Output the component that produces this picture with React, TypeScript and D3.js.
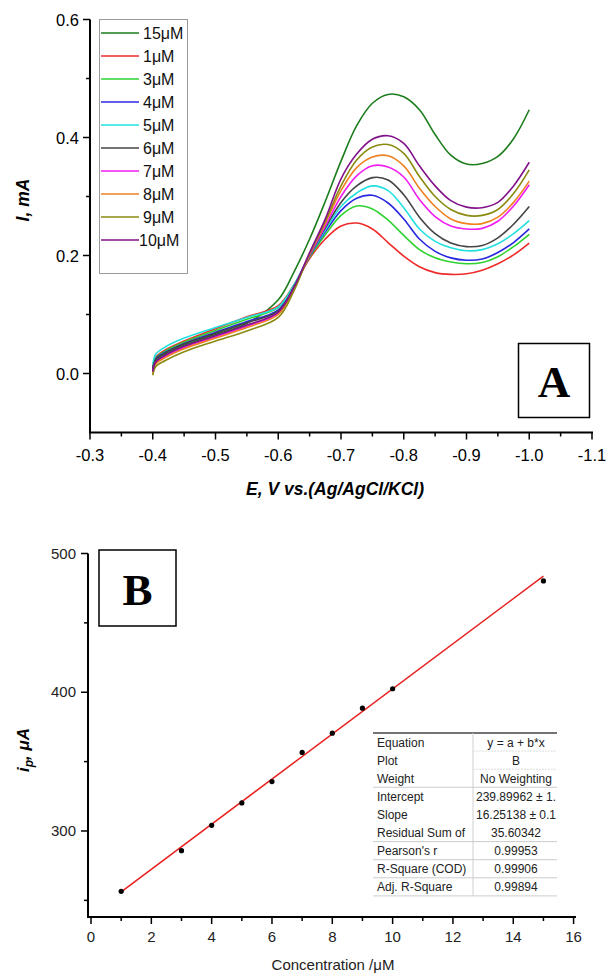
import React, { useRef, useEffect } from 'react';
import * as d3 from 'd3';

// Panel A: DPV curves, current (mA) vs potential (V)
const potentials = [-0.4, -0.405, -0.42, -0.45, -0.5, -0.55, -0.6, -0.625, -0.65, -0.675, -0.7, -0.725, -0.75, -0.775, -0.8, -0.825, -0.85, -0.875, -0.9, -0.925, -0.95, -0.975, -1.0];

const current15 = [0.004, 0.022, 0.033, 0.048, 0.066, 0.085, 0.125, 0.172, 0.228, 0.292, 0.36, 0.42, 0.458, 0.473, 0.469, 0.447, 0.405, 0.37, 0.355, 0.356, 0.368, 0.398, 0.447];
const current1 = [0.01, 0.028, 0.04, 0.055, 0.076, 0.096, 0.115, 0.15, 0.195, 0.228, 0.25, 0.255, 0.245, 0.222, 0.199, 0.181, 0.171, 0.168, 0.169, 0.175, 0.186, 0.201, 0.221];
const current3 = [0.008, 0.026, 0.038, 0.053, 0.073, 0.092, 0.112, 0.15, 0.197, 0.235, 0.268, 0.284, 0.279, 0.26, 0.234, 0.21, 0.196, 0.189, 0.186, 0.188, 0.198, 0.215, 0.236];
const current4 = [0.007, 0.025, 0.036, 0.051, 0.07, 0.088, 0.108, 0.148, 0.199, 0.24, 0.276, 0.297, 0.302, 0.289, 0.262, 0.228, 0.207, 0.196, 0.192, 0.194, 0.205, 0.222, 0.245];
const current5 = [0.015, 0.033, 0.045, 0.06, 0.078, 0.095, 0.113, 0.15, 0.2, 0.243, 0.283, 0.306, 0.318, 0.31, 0.281, 0.245, 0.224, 0.213, 0.208, 0.21, 0.22, 0.237, 0.259];
const current6 = [0.006, 0.024, 0.035, 0.05, 0.068, 0.086, 0.106, 0.147, 0.2, 0.247, 0.29, 0.318, 0.332, 0.328, 0.303, 0.265, 0.237, 0.221, 0.215, 0.217, 0.23, 0.253, 0.283];
const current7 = [0.002, 0.018, 0.029, 0.044, 0.062, 0.08, 0.102, 0.145, 0.2, 0.25, 0.3, 0.335, 0.352, 0.35, 0.333, 0.295, 0.266, 0.25, 0.245, 0.246, 0.258, 0.284, 0.32];
const current8 = [0.0, 0.016, 0.027, 0.042, 0.06, 0.078, 0.1, 0.144, 0.202, 0.255, 0.31, 0.349, 0.367, 0.369, 0.352, 0.314, 0.283, 0.262, 0.254, 0.254, 0.265, 0.29, 0.326];
const current9 = [-0.003, 0.012, 0.022, 0.037, 0.055, 0.072, 0.095, 0.14, 0.203, 0.258, 0.318, 0.362, 0.384, 0.388, 0.373, 0.334, 0.3, 0.278, 0.268, 0.268, 0.278, 0.305, 0.345];
const current10 = [0.003, 0.02, 0.031, 0.046, 0.064, 0.082, 0.104, 0.146, 0.205, 0.262, 0.33, 0.372, 0.397, 0.403, 0.39, 0.352, 0.318, 0.293, 0.282, 0.281, 0.29, 0.318, 0.358];

const seriesLabels = ['15\u03bcM', '1\u03bcM', '3\u03bcM', '4\u03bcM', '5\u03bcM', '6\u03bcM', '7\u03bcM', '8\u03bcM', '9\u03bcM', '10\u03bcM'];
const seriesCurrents = [current15, current1, current3, current4, current5, current6, current7, current8, current9, current10];
const seriesColors = ['#1c7d1c', '#ee2a2a', '#2fd22f', '#2828e0', '#22e0e0', '#444444', '#f01cf0', '#ef8020', '#8a8a10', '#82128a'];

const xTicksA = [-0.3, -0.4, -0.5, -0.6, -0.7, -0.8, -0.9, -1.0, -1.1];
const xTickLabelsA = ['-0.3', '-0.4', '-0.5', '-0.6', '-0.7', '-0.8', '-0.9', '-1.0', '-1.1'];
const yTicksA = [0, 0.2, 0.4, 0.6];
const yTickLabelsA = ['0.0', '0.2', '0.4', '0.6'];
const yMinorA = [0.1, 0.3, 0.5];

// Panel B: calibration
const concentrations = [1, 3, 4, 5, 6, 7, 8, 9, 10, 15];
const peakCurrents = [256.5, 285.8, 304.1, 320.2, 335.6, 356.6, 370.5, 388.5, 402.5, 480.2];
const fitIntercept = 239.89962;
const fitSlope = 16.25138;
const fitRange = [1, 15];

const xTicksB = [0, 2, 4, 6, 8, 10, 12, 14, 16];
const xMinorB = [1, 3, 5, 7, 9, 11, 13, 15];
const yTicksB = [300, 400, 500];
const yMinorB = [250, 350, 450];

const fitNames = ['Equation', 'Plot', 'Weight', 'Intercept', 'Slope', 'Residual Sum of', "Pearson's r", 'R-Square (COD)', 'Adj. R-Square'];
const fitValues = ['y = a + b*x', 'B', 'No Weighting', '239.89962 \u00b1 1.', '16.25138 \u00b1 0.1', '35.60342', '0.99953', '0.99906', '0.99894'];

const SANS = '"Liberation Sans", Arial, sans-serif';
const SERIF = '"Liberation Serif", "Times New Roman", serif';

function App() {
  const svgRef = useRef<SVGSVGElement>(null);

  useEffect(() => {
    const svg = d3.select(svgRef.current);
    svg.selectAll('*').remove();

    // ---------- Panel A ----------
    const xA = d3.scaleLinear().domain([-0.3, -1.1]).range([90, 592]);
    const yA = d3.scaleLinear().domain([-0.1, 0.6]).range([432.5, 19.5]);
    const gA = svg.append('g');

    const line = d3
      .line<number>()
      .x((d, i) => xA(potentials[i]))
      .y(d => yA(d))
      .curve(d3.curveCatmullRom.alpha(0.5));

    seriesCurrents.forEach((vals, k) => {
      gA.append('path')
        .datum(vals)
        .attr('fill', 'none')
        .attr('stroke', seriesColors[k])
        .attr('stroke-width', 1.6)
        .attr('d', line);
    });

    // axes
    gA.append('line').attr('x1', 90).attr('x2', 90).attr('y1', yA(0.6)).attr('y2', yA(-0.1))
      .attr('stroke', '#000').attr('stroke-width', 2);
    gA.append('line').attr('x1', 89).attr('x2', xA(-1.1) + 1).attr('y1', yA(-0.1)).attr('y2', yA(-0.1))
      .attr('stroke', '#000').attr('stroke-width', 2);

    yTicksA.forEach((v, i) => {
      gA.append('line').attr('x1', 83).attr('x2', 90).attr('y1', yA(v)).attr('y2', yA(v))
        .attr('stroke', '#000').attr('stroke-width', 1.5);
      gA.append('text').attr('x', 79).attr('y', yA(v) + 6).attr('text-anchor', 'end')
        .attr('font-family', SANS).attr('font-size', 16.5).text(yTickLabelsA[i]);
    });
    yMinorA.forEach(v => {
      gA.append('line').attr('x1', 86).attr('x2', 90).attr('y1', yA(v)).attr('y2', yA(v))
        .attr('stroke', '#000').attr('stroke-width', 1.5);
    });
    xTicksA.forEach((v, i) => {
      gA.append('line').attr('x1', xA(v)).attr('x2', xA(v)).attr('y1', 432.5).attr('y2', 439.5)
        .attr('stroke', '#000').attr('stroke-width', 1.5);
      gA.append('text').attr('x', xA(v)).attr('y', 461).attr('text-anchor', 'middle')
        .attr('font-family', SANS).attr('font-size', 16.5).text(xTickLabelsA[i]);
      if (i < xTicksA.length - 1) {
        const m = v - 0.05;
        gA.append('line').attr('x1', xA(m)).attr('x2', xA(m)).attr('y1', 432.5).attr('y2', 436.5)
          .attr('stroke', '#000').attr('stroke-width', 1.5);
      }
    });

    gA.append('text').attr('x', 335).attr('y', 495).attr('text-anchor', 'middle')
      .attr('font-family', SANS).attr('font-size', 17.5).attr('font-weight', 'bold')
      .attr('font-style', 'italic').text('E, V vs.(Ag/AgCl/KCl)');
    gA.append('text').attr('transform', 'translate(29,200) rotate(-90)').attr('text-anchor', 'middle')
      .attr('font-family', SANS).attr('font-size', 17.5).attr('font-weight', 'bold')
      .attr('font-style', 'italic').text('I, mA');

    // legend
    gA.append('rect').attr('x', 99.5).attr('y', 19.5).attr('width', 88).attr('height', 254)
      .attr('fill', '#fff').attr('stroke', '#9a9a9a').attr('stroke-width', 1);
    seriesLabels.forEach((lab, k) => {
      const ly = 33 + k * 23;
      gA.append('line').attr('x1', 101).attr('x2', 139).attr('y1', ly).attr('y2', ly)
        .attr('stroke', seriesColors[k]).attr('stroke-width', 1.6);
      gA.append('text').attr('x', k === 9 ? 139 : 143).attr('y', ly + 5.5)
        .attr('font-family', SANS).attr('font-size', 16).attr('fill', '#111').text(lab);
    });

    // "A" box
    gA.append('rect').attr('x', 518.5).attr('y', 343.5).attr('width', 71).attr('height', 74)
      .attr('fill', '#fff').attr('stroke', '#000').attr('stroke-width', 1.5);
    gA.append('text').attr('x', 554).attr('y', 397).attr('text-anchor', 'middle')
      .attr('font-family', SERIF).attr('font-size', 45).attr('font-weight', 'bold').text('A');

    // ---------- Panel B ----------
    const xB = d3.scaleLinear().domain([-0.1, 16.08]).range([88, 576]);
    const yB = d3.scaleLinear().domain([238, 500]).range([917, 553.5]);
    const gB = svg.append('g');

    gB.append('line').attr('x1', 88).attr('x2', 88).attr('y1', yB(500)).attr('y2', yB(238))
      .attr('stroke', '#000').attr('stroke-width', 2);
    gB.append('line').attr('x1', 87).attr('x2', 576).attr('y1', 917).attr('y2', 917)
      .attr('stroke', '#000').attr('stroke-width', 2);

    yTicksB.forEach(v => {
      gB.append('line').attr('x1', 81).attr('x2', 88).attr('y1', yB(v)).attr('y2', yB(v))
        .attr('stroke', '#000').attr('stroke-width', 1.5);
      gB.append('text').attr('x', 76).attr('y', yB(v) + 5).attr('text-anchor', 'end')
        .attr('font-family', SANS).attr('font-size', 15).attr('fill', '#222').text(String(v));
    });
    yMinorB.forEach(v => {
      gB.append('line').attr('x1', 84).attr('x2', 88).attr('y1', yB(v)).attr('y2', yB(v))
        .attr('stroke', '#000').attr('stroke-width', 1.5);
    });
    xTicksB.forEach(v => {
      gB.append('line').attr('x1', xB(v)).attr('x2', xB(v)).attr('y1', 917).attr('y2', 924)
        .attr('stroke', '#000').attr('stroke-width', 1.5);
      gB.append('text').attr('x', xB(v)).attr('y', 942).attr('text-anchor', 'middle')
        .attr('font-family', SANS).attr('font-size', 15).attr('fill', '#222').text(String(v));
    });
    xMinorB.forEach(v => {
      gB.append('line').attr('x1', xB(v)).attr('x2', xB(v)).attr('y1', 917).attr('y2', 921)
        .attr('stroke', '#000').attr('stroke-width', 1.5);
    });

    gB.append('text').attr('x', 333).attr('y', 970).attr('text-anchor', 'middle')
      .attr('font-family', SANS).attr('font-size', 15).attr('fill', '#222').text('Concentration /\u03bcM');

    const yLab = gB.append('text').attr('transform', 'translate(29,750) rotate(-90)').attr('text-anchor', 'middle')
      .attr('font-family', SANS).attr('font-size', 17).attr('font-weight', 'bold').attr('font-style', 'italic');
    yLab.append('tspan').text('i');
    yLab.append('tspan').attr('font-size', 12).attr('dy', 4).text('p');
    yLab.append('tspan').attr('dy', -4).text(', \u03bcA');

    // "B" box
    gB.append('rect').attr('x', 99).attr('y', 550).attr('width', 77).attr('height', 76)
      .attr('fill', '#fff').attr('stroke', '#000').attr('stroke-width', 1.5);
    gB.append('text').attr('x', 137.5).attr('y', 605).attr('text-anchor', 'middle')
      .attr('font-family', SERIF).attr('font-size', 45).attr('font-weight', 'bold').text('B');

    // fit line
    gB.append('line')
      .attr('x1', xB(fitRange[0])).attr('y1', yB(fitIntercept + fitSlope * fitRange[0]))
      .attr('x2', xB(fitRange[1])).attr('y2', yB(fitIntercept + fitSlope * fitRange[1]))
      .attr('stroke', '#e82020').attr('stroke-width', 1.5);

    gB.selectAll('circle.pt')
      .data(concentrations)
      .enter()
      .append('circle')
      .attr('class', 'pt')
      .attr('cx', d => xB(d))
      .attr('cy', (d, i) => yB(peakCurrents[i]))
      .attr('r', 2.6)
      .attr('fill', '#000');

    // fit table
    const tLeft = 373, tRight = 557, tDiv = 473, tTop = 733, rowH = 18.1;
    const tb = gB.append('g');
    tb.append('rect').attr('x', tLeft).attr('y', tTop).attr('width', tRight - tLeft)
      .attr('height', rowH * fitNames.length).attr('fill', '#fff');
    tb.append('line').attr('x1', tLeft).attr('x2', tRight).attr('y1', tTop).attr('y2', tTop)
      .attr('stroke', '#444').attr('stroke-width', 1.3);
    tb.append('line').attr('x1', tDiv).attr('x2', tDiv).attr('y1', tTop)
      .attr('y2', tTop + rowH * fitNames.length).attr('stroke', '#d0d0d0').attr('stroke-width', 1);
    fitNames.forEach((name, r) => {
      const cy = tTop + rowH * (r + 0.5);
      tb.append('text').attr('x', tLeft + 4).attr('y', cy + 4.5)
        .attr('font-family', SANS).attr('font-size', 12).attr('fill', '#222').text(name);
      tb.append('text').attr('x', (tDiv + tRight) / 2 + 1).attr('y', cy + 4.5).attr('text-anchor', 'middle')
        .attr('font-family', SANS).attr('font-size', 12).attr('fill', '#222').text(fitValues[r]);
    });
    [1, 2].forEach(r => {
      tb.append('line').attr('x1', tDiv).attr('x2', tRight).attr('y1', tTop + rowH * r).attr('y2', tTop + rowH * r)
        .attr('stroke', '#dddddd').attr('stroke-width', 1).attr('stroke-dasharray', '2 1');
    });
    [3, 6, 7, 8, 9].forEach(r => {
      tb.append('line').attr('x1', tLeft).attr('x2', tRight).attr('y1', tTop + rowH * r).attr('y2', tTop + rowH * r)
        .attr('stroke', '#cccccc').attr('stroke-width', 1);
    });
  }, []);

  return (
    <svg
      ref={svgRef}
      width={607}
      height={973}
      style={{ position: 'absolute', left: 0, top: 0, background: '#fff' }}
    />
  );
}

export default App;
